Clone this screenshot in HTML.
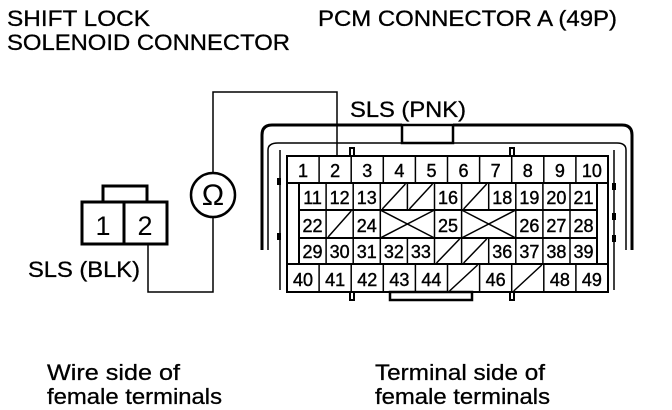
<!DOCTYPE html><html><head><style>body{margin:0;background:#fff}svg{display:block}text{font-family:"Liberation Sans",sans-serif;fill:#000}</style></head><body>
<svg width="672" height="410" viewBox="0 0 672 410" xmlns="http://www.w3.org/2000/svg">
<g font-size="22" stroke="#000" stroke-width="0.3">
<text x="7" y="26" textLength="143" lengthAdjust="spacingAndGlyphs">SHIFT LOCK</text><text x="7" y="50" textLength="283" lengthAdjust="spacingAndGlyphs">SOLENOID CONNECTOR</text>
<text x="318" y="26" textLength="299" lengthAdjust="spacingAndGlyphs">PCM CONNECTOR A (49P)</text>
<text x="350" y="117" textLength="116" lengthAdjust="spacingAndGlyphs">SLS (PNK)</text>
<text x="28" y="277" textLength="112" lengthAdjust="spacingAndGlyphs">SLS (BLK)</text>
<text x="47" y="380" textLength="133" lengthAdjust="spacingAndGlyphs">Wire side of</text><text x="47" y="404" textLength="175" lengthAdjust="spacingAndGlyphs">female terminals</text>
<text x="375" y="380" textLength="170" lengthAdjust="spacingAndGlyphs">Terminal side of</text><text x="375" y="404" textLength="175" lengthAdjust="spacingAndGlyphs">female terminals</text>
</g>
<g fill="none" stroke="#000">
<path d="M262 250 V135 Q262 125 272 125 H402 M453 125 H622 Q632 125 632 135 V250" stroke-width="3"/>
<rect x="402" y="125" width="51" height="18" stroke-width="2.5"/>
<path d="M268 250 V150 Q268 143 278 143 H617 Q626 143 626 150 V250" stroke-width="1.5"/>
<path d="M280 290 V150 M614 290 V150" stroke-width="1.5"/>
<rect x="287" y="156" width="321" height="136" stroke-width="2"/>
<rect x="390" y="292" width="82" height="8" stroke-width="2.5"/>
<rect x="350" y="148" width="4" height="8" stroke-width="2"/><rect x="510" y="148" width="4" height="8" stroke-width="2"/>
<rect x="350" y="292" width="4" height="8" stroke-width="2"/><rect x="510" y="292" width="4" height="8" stroke-width="2"/>
<path d="M287 183 H608 M299 183 V264 H597 V183 M287 264 H608 M299 210 H597 M299 238 H597" stroke-width="2"/>
<path d="M82 202 H167 V244 H82 Z M124 202 V244 M103 202 V186 H147 V202" stroke-width="3"/>
<circle cx="213" cy="195" r="22" stroke-width="2.5"/>
<path d="M213 173 V92 H337 V156 M213 217 V292 H148 V244" stroke-width="1.5"/>
</g>
<g fill="#000"><rect x="277" y="178" width="4" height="7"/><rect x="277" y="233" width="4" height="7"/><rect x="612" y="183" width="4" height="7"/><rect x="612" y="213" width="4" height="7"/><rect x="612" y="235" width="4" height="7"/></g>
<text x="213" y="205" font-size="30" text-anchor="middle">Ω</text>
<text x="103" y="235" font-size="27" text-anchor="middle">1</text><text x="145" y="235" font-size="27" text-anchor="middle">2</text>
<g id="cells" font-size="18" text-anchor="middle" stroke="#000" stroke-width="1.5"></g>
<script>
var g=document.getElementById('cells'),ns='http://www.w3.org/2000/svg';
function L(a,b,c,d){var l=document.createElementNS(ns,'line');l.setAttribute('x1',a);l.setAttribute('y1',b);l.setAttribute('x2',c);l.setAttribute('y2',d);g.appendChild(l);}
function T(x,y,s){var t=document.createElementNS(ns,'text');t.setAttribute('x',x);t.setAttribute('y',y);t.setAttribute('stroke-width','0.4');t.textContent=s;g.appendChild(t);}
function row(x0,w,y0,h,items){var x=x0;items.forEach(function(it,i){var n=typeof it=='object'?it[1]:1,k=typeof it=='object'?it[0]:it;var ww=w*n;
if(i>0)L(x,y0,x,y0+h);
if(k=='/')L(x+2,y0+h-1,x+ww-2,y0+1);else if(k=='X'){L(x,y0,x+ww,y0+h);L(x,y0+h,x+ww,y0);}else T(x+ww/2,y0+h-6,k);x+=ww;});}
row(287,32.1,156,27,['1','2','3','4','5','6','7','8','9','10']);
row(299,27.1,183,27,['11','12','13','/','/','16','/','18','19','20','21']);
row(299,27.1,210,28,['22','/','24',['X',2],'25',['X',2],'26','27','28']);
row(299,27.1,238,26,['29','30','31','32','33','/','/','36','37','38','39']);
row(287,32.1,264,28,['40','41','42','43','44','/','46','/','48','49']);
</script>
</svg></body></html>
